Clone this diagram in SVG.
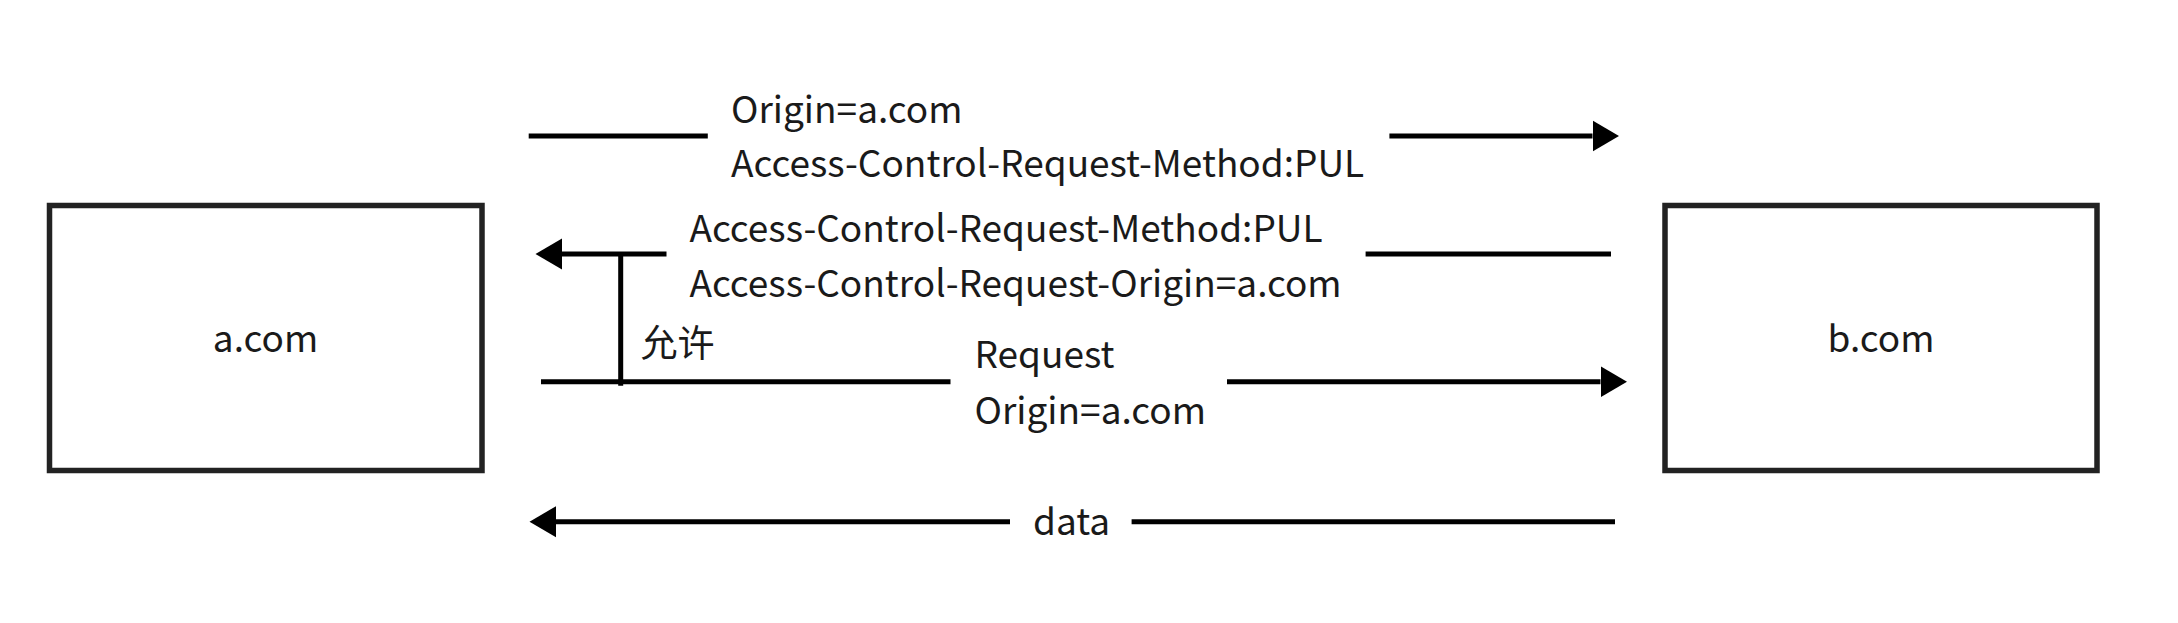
<svg xmlns="http://www.w3.org/2000/svg" width="2178" height="623" viewBox="0 0 2178 623">
  <style>
    .box { fill: #ffffff; stroke: #222222; stroke-width: 5.5; }
    .lbl { font-family: "Noto Sans CJK SC", "Noto Sans", sans-serif; font-size: 37px; fill: #1a1a1a; }
    .mid { text-anchor: middle; }
    .ln { stroke: #000000; stroke-width: 5; fill: none; }
  </style>
  <defs>
    <marker id="ah" markerUnits="userSpaceOnUse" markerWidth="27" markerHeight="32" refX="0" refY="15.5" orient="auto" viewBox="0 0 27 31">
      <path d="M0,0 L26.5,15.5 L0,31 Z" fill="#000000"/>
    </marker>
  </defs>
  <rect width="2178" height="623" fill="#ffffff"/>

  <g id="node-a">
    <rect class="box" x="49.5" y="205.5" width="432.5" height="265"/>
    <text class="lbl mid" x="265.5" y="352">a.com</text>
  </g>
  <g id="node-b">
    <rect class="box" x="1665" y="205.5" width="432" height="265"/>
    <text class="lbl mid" x="1881" y="352">b.com</text>
  </g>

  <g id="connectors">
    <line class="ln" x1="528.7" y1="136" x2="707.8" y2="136"/>
    <line class="ln" x1="1389.4" y1="136" x2="1592.5" y2="136" marker-end="url(#ah)"/>

    <line class="ln" x1="666.5" y1="254" x2="562" y2="254" marker-end="url(#ah)"/>
    <line class="ln" x1="1365.6" y1="254" x2="1611" y2="254"/>

    <line class="ln" x1="620.7" y1="254" x2="620.7" y2="385.7"/>

    <line class="ln" x1="541" y1="381.7" x2="950.5" y2="381.7"/>
    <line class="ln" x1="1227" y1="381.7" x2="1600.5" y2="381.7" marker-end="url(#ah)"/>

    <line class="ln" x1="1010" y1="521.7" x2="556" y2="521.7" marker-end="url(#ah)"/>
    <line class="ln" x1="1131.6" y1="521.7" x2="1615" y2="521.7"/>
  </g>

  <g id="labels">
    <text class="lbl" x="731" y="122.7">Origin=a.com</text>
    <text class="lbl" x="731" y="177.3">Access-Control-Request-Method:PUL</text>
    <text class="lbl" x="689.4" y="241.7">Access-Control-Request-Method:PUL</text>
    <text class="lbl" x="689.4" y="297.3">Access-Control-Request-Origin=a.com</text>
    <text class="lbl" x="640.5" y="357">允许</text>
    <text class="lbl" x="974.5" y="368.3">Request</text>
    <text class="lbl" x="974.5" y="424">Origin=a.com</text>
    <text class="lbl" x="1033" y="535">data</text>
  </g>
</svg>
